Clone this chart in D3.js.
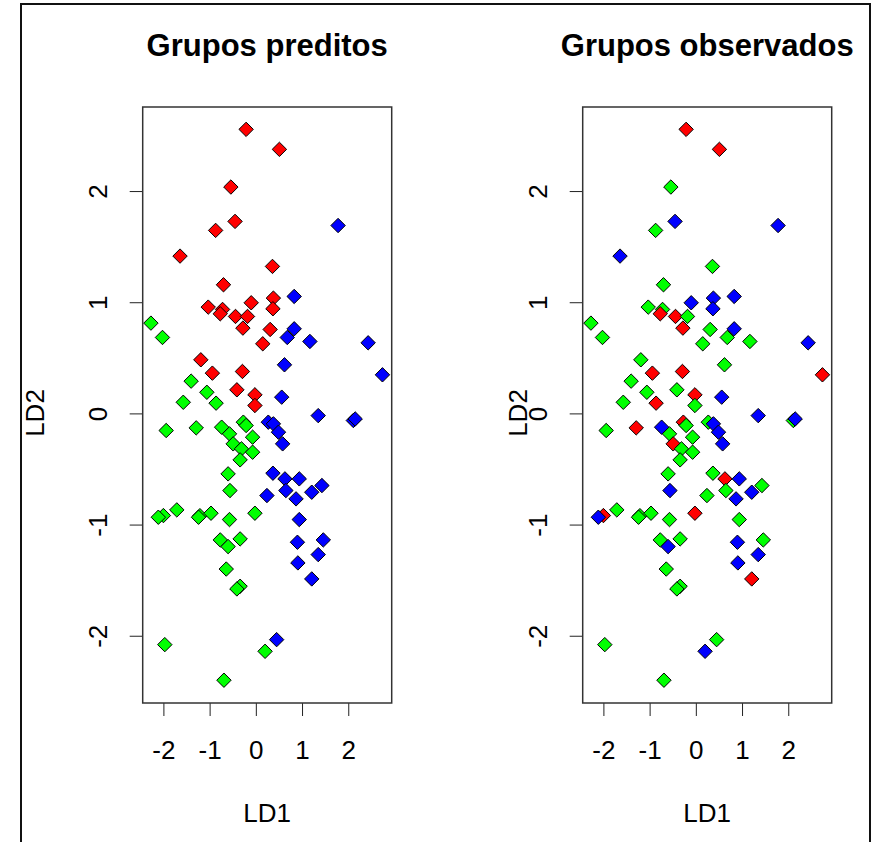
<!DOCTYPE html>
<html lang="pt">
<meta charset="utf-8">
<title>Grupos preditos vs observados</title>
<style>
  body { margin: 0; background: #fff; }
  text { font-family: "Liberation Sans", Arial, sans-serif; fill: #000; }
</style>
<body>
<script src="https://d3js.org/d3.v7.min.js"></script>
<script>
  // scores das funcoes discriminantes
  var ld1 = [-0.21, 0.51, -0.54, -0.45, -0.87, 1.78, -1.64, 0.36, -0.70, 0.83,
             0.38, -1.03, -0.72, -0.77, -0.10, 0.37, -0.44, -0.18, -0.28, 0.31,
             0.83, 0.68, 1.17, 0.15, 2.43, -2.27, -2.02, -1.19, -0.94, -0.29,
             0.62, 2.74, -1.40, -1.06, -0.41, -0.02, -1.57, -0.86, -0.02, 0.56,
             1.35, 2.11, 2.15, -1.94, -1.29, -0.74, -0.27, -0.21, -0.57, -0.07,
             -0.49, -0.31, -0.07, -0.34, 0.27, 0.38, 0.49, 0.58, -0.60, 0.37,
             0.63, 0.94, 0.65, 0.87, 1.21, 1.43, 0.24, -0.56, -2.00, -2.11,
             -1.71, -1.21, -1.24, -0.97, -0.57, -0.02, 0.94, -0.77, -0.60, -0.34,
             0.90, 1.46, 1.35, 0.91, -0.64, 1.21, -0.34, -0.41, -1.97, 0.45,
             0.20, -0.69];
  var ld2 = [2.555, 2.375, 2.036, 1.727, 1.646, 1.69, 1.415, 1.322, 1.157, 1.052,
             1.037, 0.956, 0.935, 0.896, 0.995, 0.941, 0.872, 0.872, 0.767, 0.755,
             0.761, 0.683, 0.647, 0.626, 0.635, 0.812, 0.683, 0.482, 0.362, 0.377,
             0.437, 0.347, 0.29, 0.19, 0.212, 0.167, 0.10, 0.092, 0.071, 0.146,
             -0.02, -0.064, -0.05, -0.154, -0.13, -0.124, -0.079, -0.109, -0.184, -0.214,
             -0.274, -0.319, -0.349, -0.418, -0.079, -0.094, -0.169, -0.274, -0.544, -0.538,
             -0.589, -0.589, -0.694, -0.769, -0.709, -0.649, -0.739, -0.694, -0.919, -0.934,
             -0.868, -0.92, -0.934, -0.898, -0.955, -0.898, -0.955, -1.138, -1.198, -1.129,
             -1.159, -1.138, -1.27, -1.345, -1.40, -1.489, -1.555, -1.579, -2.08, -2.035,
             -2.14, -2.40];

  // 1 = vermelho, 2 = verde, 3 = azul
  var predito = [1, 1, 1, 1, 1, 3, 1, 1, 1, 3,
                 1, 1, 1, 1, 1, 1, 1, 1, 1, 1,
                 3, 3, 3, 1, 3, 2, 2, 1, 1, 1,
                 3, 3, 2, 2, 1, 1, 2, 2, 1, 3,
                 3, 3, 3, 2, 2, 2, 2, 2, 2, 2,
                 2, 2, 2, 2, 3, 3, 3, 3, 2, 3,
                 3, 3, 3, 3, 3, 3, 3, 2, 2, 2,
                 2, 2, 2, 2, 2, 2, 3, 2, 2, 2,
                 3, 3, 3, 3, 2, 3, 2, 2, 2, 3,
                 2, 2];
  var observado = [1, 1, 2, 3, 2, 3, 3, 2, 2, 3,
                   3, 2, 2, 1, 3, 3, 1, 2, 1, 2,
                   3, 2, 2, 2, 3, 2, 2, 2, 1, 1,
                   2, 1, 2, 2, 2, 1, 2, 1, 2, 3,
                   3, 2, 3, 2, 1, 3, 1, 2, 2, 2,
                   1, 2, 2, 2, 2, 3, 3, 3, 2, 2,
                   1, 3, 2, 3, 3, 2, 2, 3, 1, 3,
                   2, 2, 2, 2, 2, 1, 2, 2, 3, 2,
                   3, 2, 3, 3, 2, 1, 2, 2, 2, 2,
                   3, 2];

  var ticks = [-2, -1, 0, 1, 2];
  var xlim = [-2.448, 2.94],
      ylim = [-2.605, 2.756];

  var cores = d3.scaleOrdinal().domain([1, 2, 3]).range(["#ff0000", "#00ff00", "#0000ff"]);

  var svg = d3.select("body").append("svg")
    .attr("width", 873)
    .attr("height", 842);

  // moldura externa
  svg.append("rect")
    .attr("x", 21).attr("y", 4)
    .attr("width", 849).attr("height", 860)
    .attr("fill", "none").attr("stroke", "#111").attr("stroke-width", 2);

  var w = 249, h = 596;
  var x = d3.scaleLinear().domain(xlim).range([0, w]);
  var y = d3.scaleLinear().domain(ylim).range([h, 0]);

  var losango = function(r) {
    return "M0," + (-r) + "L" + r + ",0L0," + r + "L" + (-r) + ",0Z";
  };

  function painel(left, titulo, grupos, ylabX) {
    var g = svg.append("g").attr("transform", "translate(" + left + ",107)");

    g.append("text")
      .attr("x", w / 2).attr("y", -51)
      .attr("text-anchor", "middle")
      .style("font-size", "31px").style("font-weight", "bold")
      .text(titulo);

    // eixo x
    var ax = g.append("g")
      .attr("transform", "translate(0," + h + ")")
      .call(d3.axisBottom(x).tickValues(ticks).tickSize(13).tickFormat(function(d) { return String(d); }));
    ax.select(".domain").remove();
    ax.selectAll("line").attr("stroke", "#222");
    ax.selectAll("text")
      .attr("y", 56).attr("dy", 0)
      .style("font-size", "26px");

    // eixo y
    var ay = g.append("g")
      .call(d3.axisLeft(y).tickValues(ticks).tickSize(13).tickFormat(function(d) { return String(d); }));
    ay.select(".domain").remove();
    ay.selectAll("line").attr("stroke", "#222");
    ay.selectAll("text")
      .attr("x", 0).attr("dy", 0)
      .attr("text-anchor", "middle")
      .attr("transform", "translate(-36,0) rotate(-90)")
      .style("font-size", "26px");

    g.append("text")
      .attr("x", w / 2).attr("y", h + 119)
      .attr("text-anchor", "middle")
      .style("font-size", "26px")
      .text("LD1");

    g.append("text")
      .attr("transform", "translate(" + ylabX + ",306) rotate(-90)")
      .attr("text-anchor", "middle")
      .style("font-size", "26px")
      .text("LD2");

    g.append("rect")
      .attr("width", w).attr("height", h)
      .attr("fill", "none").attr("stroke", "#333").attr("stroke-width", 1.5);

    g.selectAll("path.pt")
      .data(d3.range(ld1.length))
      .enter().append("path")
      .attr("class", "pt")
      .attr("transform", function(i) { return "translate(" + x(ld1[i]) + "," + y(ld2[i]) + ")"; })
      .attr("d", losango(7.2))
      .attr("fill", function(i) { return cores(grupos[i]); })
      .attr("stroke", "#000")
      .attr("stroke-width", 1);
  }

  painel(142.7, "Grupos preditos", predito, -99);
  painel(582.7, "Grupos observados", observado, -56);
</script>
</body>
</html>
